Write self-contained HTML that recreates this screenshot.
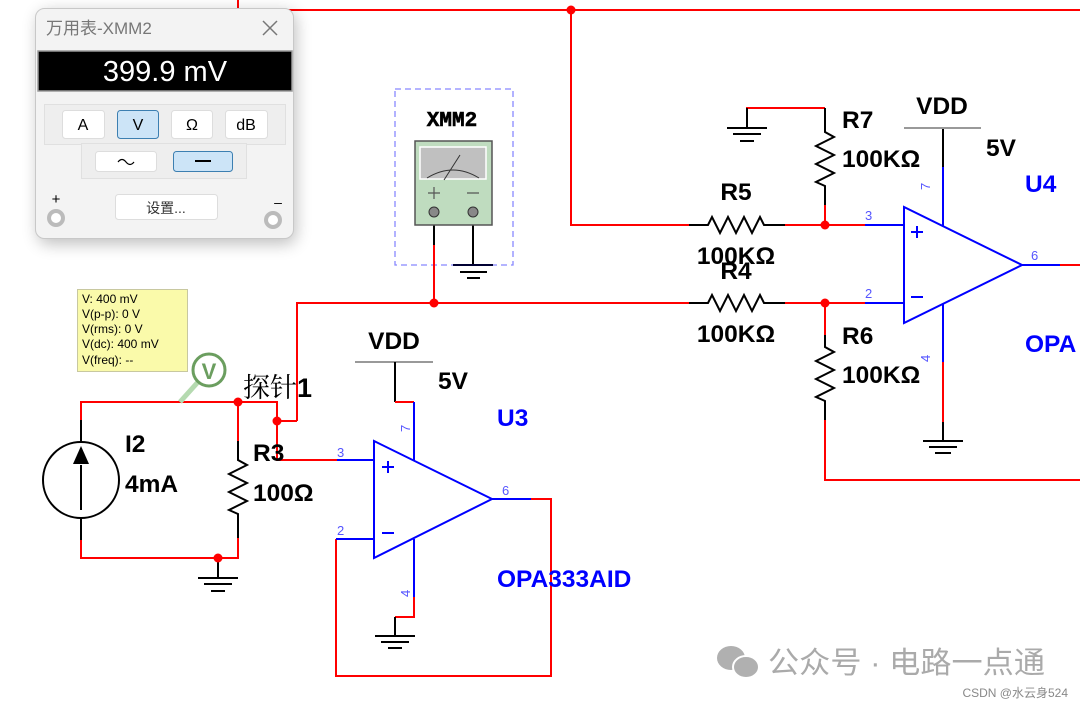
<!DOCTYPE html>
<html><head><meta charset="utf-8"><style>
html,body{margin:0;padding:0;background:#fff;}
svg{display:block;}
text{font-family:"Liberation Sans","Noto Sans CJK SC",sans-serif;}
</style></head><body>
<svg width="1080" height="707" viewBox="0 0 1080 707" xmlns="http://www.w3.org/2000/svg">
<defs>
<filter id="sh" x="-20%" y="-20%" width="140%" height="140%"><feGaussianBlur stdDeviation="8"/></filter>
</defs>
<g fill="none" stroke-width="2">
<path d="M238 0 V10 H1080 M571 10 V225 H689" stroke="#f00"/>
<path d="M689 225 H708 l4 -8 l8 16 l8 -16 l8 16 l8 -16 l8 16 l8 -16 l4 8 H785" stroke="#000"/>
<path d="M785 225 H865" stroke="#f00"/>
<path d="M865 225 H904" stroke="#00f"/>
<path d="M747 128 V108 H825" stroke="#f00"/>
<path d="M747 108 V128" stroke="#000"/>
<path d="M727 128 H767 M733 134 H761 M740 141 H754" stroke="#000"/>
<path d="M825 108 V132 l9 5 l-18 9 l18 9 l-18 9 l18 9 l-18 9 l9 4 V205" stroke="#000"/>
<path d="M825 205 V225" stroke="#f00"/>
<path d="M297 421 V303 H689" stroke="#f00"/>
<path d="M689 303 H708 l4 -8 l8 16 l8 -16 l8 16 l8 -16 l8 16 l8 -16 l4 8 H785" stroke="#000"/>
<path d="M785 303 H865" stroke="#f00"/>
<path d="M865 303 H904" stroke="#00f"/>
<path d="M825 303 V335" stroke="#f00"/>
<path d="M825 335 V347 l9 5 l-18 9 l18 9 l-18 9 l18 9 l-18 9 l9 4 V420" stroke="#000"/>
<path d="M825 420 V480 H1080" stroke="#f00"/>
<path d="M904 207 V323 L1022 265 Z" stroke="#00f"/>
<path d="M1022 265 H1060" stroke="#00f"/>
<path d="M1060 265 H1080" stroke="#f00"/>
<path d="M943 128 V167" stroke="#000"/>
<path d="M943 167 V226 M943 304 V362" stroke="#00f"/>
<path d="M943 362 V422" stroke="#f00"/>
<path d="M943 422 V441 M923 441 H963 M929 447 H957 M935 453 H951" stroke="#000"/>
<path d="M904 128 H981" stroke="#999"/>
<path d="M911 232 H923 M917 226 V238 M911 297 H923" stroke="#00f"/>
<rect x="395" y="89" width="118" height="176" stroke="#88f" stroke-width="1.3" stroke-dasharray="6,4"/>
<path d="M434 212 V245" stroke="#000"/>
<path d="M434 245 V303" stroke="#f00"/>
<path d="M473 212 V265" stroke="#000"/>
<path d="M453 265 H493" stroke="#003"/>
<path d="M460 272 H487 M467 278 H480" stroke="#000"/>
<path d="M81 420 V402 H277 V460 H337 M277 421 H297 M81 540 V558 H238 V538 M238 441 V402" stroke="#f00"/>
<path d="M81 420 V442 M81 518 V540" stroke="#000"/>
<circle cx="81" cy="480" r="38" stroke="#000"/>
<path d="M81 510 V465" stroke="#000"/>
<path d="M238 441 V460 l9 5 l-18 9 l18 9 l-18 9 l18 9 l-18 9 l9 4 V538" stroke="#000"/>
<path d="M218 558 V578 M198 578 H238 M204 584 H232 M211 591 H225" stroke="#000"/>
<path d="M337 460 H374" stroke="#00f"/>
<path d="M374 441 V558 L492 499 Z" stroke="#00f"/>
<path d="M492 499 H531" stroke="#00f"/>
<path d="M531 499 H551 V676 H336 V539" stroke="#f00"/>
<path d="M336 539 H374" stroke="#00f"/>
<path d="M355 362 H433" stroke="#999"/>
<path d="M395 362 V402" stroke="#000"/>
<path d="M395 402 H414" stroke="#f00"/>
<path d="M414 402 V460 M414 539 V597" stroke="#00f"/>
<path d="M414 597 V617 H395" stroke="#f00"/>
<path d="M395 617 V636 M375 636 H415 M381 642 H409 M388 648 H402" stroke="#000"/>
<path d="M382 467 H394 M388 461 V473 M382 533 H394" stroke="#00f"/>
</g>
<path d="M81 446 l-8 18 h16 z" fill="#000"/>
<g fill="#f00">
<circle cx="571" cy="10" r="4.5"/><circle cx="825" cy="225" r="4.5"/><circle cx="825" cy="303" r="4.5"/>
<circle cx="434" cy="303" r="4.5"/><circle cx="238" cy="402" r="4.5"/><circle cx="277" cy="421" r="4.5"/>
<circle cx="218" cy="558" r="4.5"/>
</g>
<text x="452" y="126" font-weight="bold" font-size="21" text-anchor="middle" stroke="#000" stroke-width="0.6" style="font-family:'Liberation Mono',monospace">XMM2</text>
<rect x="415" y="141" width="77" height="84" fill="#bfdcbf" stroke="#555" stroke-width="1.5"/>
<rect x="420" y="147" width="66" height="32" fill="#c0c0c0" stroke="#fff" stroke-width="1.5"/>
<path d="M427 178 q26 -16 52 0 M444 180 L460 155" stroke="#333" fill="none" stroke-width="1"/>
<path d="M428 193 h12 M434 187 v12 M467 193 h12" stroke="#555" stroke-width="1.2"/>
<circle cx="434" cy="212" r="5" fill="#888" stroke="#333"/><circle cx="473" cy="212" r="5" fill="#888" stroke="#333"/>
<g font-weight="bold" font-size="24.5" fill="#000">
<text x="842" y="128">R7</text><text x="842" y="167">100KΩ</text>
<text x="736" y="200" text-anchor="middle">R5</text><text x="736" y="264" text-anchor="middle">100KΩ</text>
<text x="736" y="279" text-anchor="middle">R4</text><text x="736" y="342" text-anchor="middle">100KΩ</text>
<text x="842" y="344">R6</text><text x="842" y="383">100KΩ</text>
<text x="942" y="114" text-anchor="middle">VDD</text><text x="986" y="156">5V</text>
<text x="394" y="349" text-anchor="middle">VDD</text><text x="438" y="389">5V</text>
<text x="125" y="452">I2</text><text x="125" y="492">4mA</text>
<text x="253" y="461">R3</text><text x="253" y="501">100Ω</text>
</g>
<g font-weight="bold" font-size="24.5" fill="#00f">
<text x="1025" y="192">U4</text><text x="1025" y="352">OPA</text>
<text x="497" y="426">U3</text><text x="497" y="587">OPA333AID</text>
</g>
<g font-size="13" fill="#55f">
<text x="865" y="220">3</text><text x="865" y="298">2</text><text x="1031" y="260">6</text>
<text x="337" y="457">3</text><text x="337" y="535">2</text><text x="502" y="495">6</text>
<text transform="translate(930,190) rotate(-90)">7</text><text transform="translate(930,362) rotate(-90)">4</text>
<text transform="translate(410,432) rotate(-90)">7</text><text transform="translate(410,597) rotate(-90)">4</text>
</g>
<text x="243" y="397" font-size="27" fill="#000" style="font-family:'Noto Serif CJK SC','Liberation Serif',serif">探针<tspan font-weight="bold" style="font-family:'Liberation Sans',sans-serif">1</tspan></text>
<path d="M180 402 L198 382" stroke="#b5dab0" stroke-width="5"/>
<circle cx="209" cy="370" r="16" fill="#fff" stroke="#6b9e5f" stroke-width="3"/>
<text x="209" y="379" font-size="22" font-weight="bold" fill="#6b9e5f" text-anchor="middle">V</text>
<rect x="77.5" y="289.5" width="110" height="82" fill="#fafaaa" stroke="#c8c8a0"/>
<g font-size="12" fill="#000">
<text x="82" y="303">V: 400 mV</text><text x="82" y="318">V(p-p): 0 V</text><text x="82" y="333">V(rms): 0 V</text><text x="82" y="348">V(dc): 400 mV</text><text x="82" y="364">V(freq): --</text>
</g>
<rect x="38" y="12" width="258" height="232" rx="10" fill="#000" opacity="0.25" filter="url(#sh)"/>
<rect x="35.5" y="8.5" width="258" height="230" rx="9" fill="#f3f3f3" stroke="#c8c8c8"/>
<text x="46" y="34" font-size="17" fill="#777">万用表-XMM2</text>
<path d="M263 21 L277 35 M277 21 L263 35" stroke="#777" stroke-width="1.5"/>
<rect x="38" y="51" width="254" height="40" fill="#000" stroke="#999" stroke-width="1.5"/>
<text x="165" y="81" font-size="29" fill="#fff" text-anchor="middle">399.9 mV</text>
<rect x="44.5" y="104.5" width="241" height="40" fill="#eee" stroke="#e0e0e0"/>
<rect x="81.5" y="143.5" width="165" height="35" fill="#eee" stroke="#e0e0e0"/>
<g stroke-width="1">
<rect x="62.5" y="110.5" width="42" height="28" rx="3" fill="#fff" stroke="#ddd"/>
<rect x="117.5" y="110.5" width="41" height="28" rx="3" fill="#cce4f7" stroke="#3c7fb1"/>
<rect x="171.5" y="110.5" width="41" height="28" rx="3" fill="#fff" stroke="#ddd"/>
<rect x="225.5" y="110.5" width="42" height="28" rx="3" fill="#fff" stroke="#ddd"/>
<rect x="95.5" y="151.5" width="61" height="20" rx="3" fill="#fff" stroke="#ddd"/>
<rect x="173.5" y="151.5" width="59" height="20" rx="3" fill="#cce4f7" stroke="#3c7fb1"/>
<rect x="115.5" y="194.5" width="102" height="25" rx="3" fill="#fff" stroke="#ddd"/>
</g>
<g font-size="16" fill="#000" text-anchor="middle">
<text x="83" y="130">A</text><text x="138" y="130">V</text><text x="192" y="130">Ω</text><text x="246" y="130">dB</text>
</g>
<path d="M118 162 q4 -5 8 0 t8 0" stroke="#000" fill="none" stroke-width="1.2"/>
<path d="M195 161 H211" stroke="#000" stroke-width="2"/>
<text x="166" y="213" font-size="14" fill="#333" text-anchor="middle">设置...</text>
<text x="56" y="204" font-size="15" fill="#000" text-anchor="middle">+</text>
<text x="278" y="207" font-size="14" fill="#000" text-anchor="middle">–</text>
<circle cx="56" cy="218" r="7" fill="#fff" stroke="#bbb" stroke-width="4"/>
<circle cx="273" cy="220" r="7" fill="#fff" stroke="#bbb" stroke-width="4"/>
<ellipse cx="731" cy="658" rx="14" ry="12" fill="#b0b0b0"/>
<ellipse cx="746" cy="667" rx="13" ry="11" fill="#b0b0b0" stroke="#fff" stroke-width="2"/>
<text x="768" y="673" font-size="30" fill="#aaa" textLength="277" lengthAdjust="spacingAndGlyphs">公众号 · 电路一点通</text>
<text x="1068" y="697" font-size="12" fill="#888" text-anchor="end">CSDN @水云身524</text>
</svg>
</body></html>
